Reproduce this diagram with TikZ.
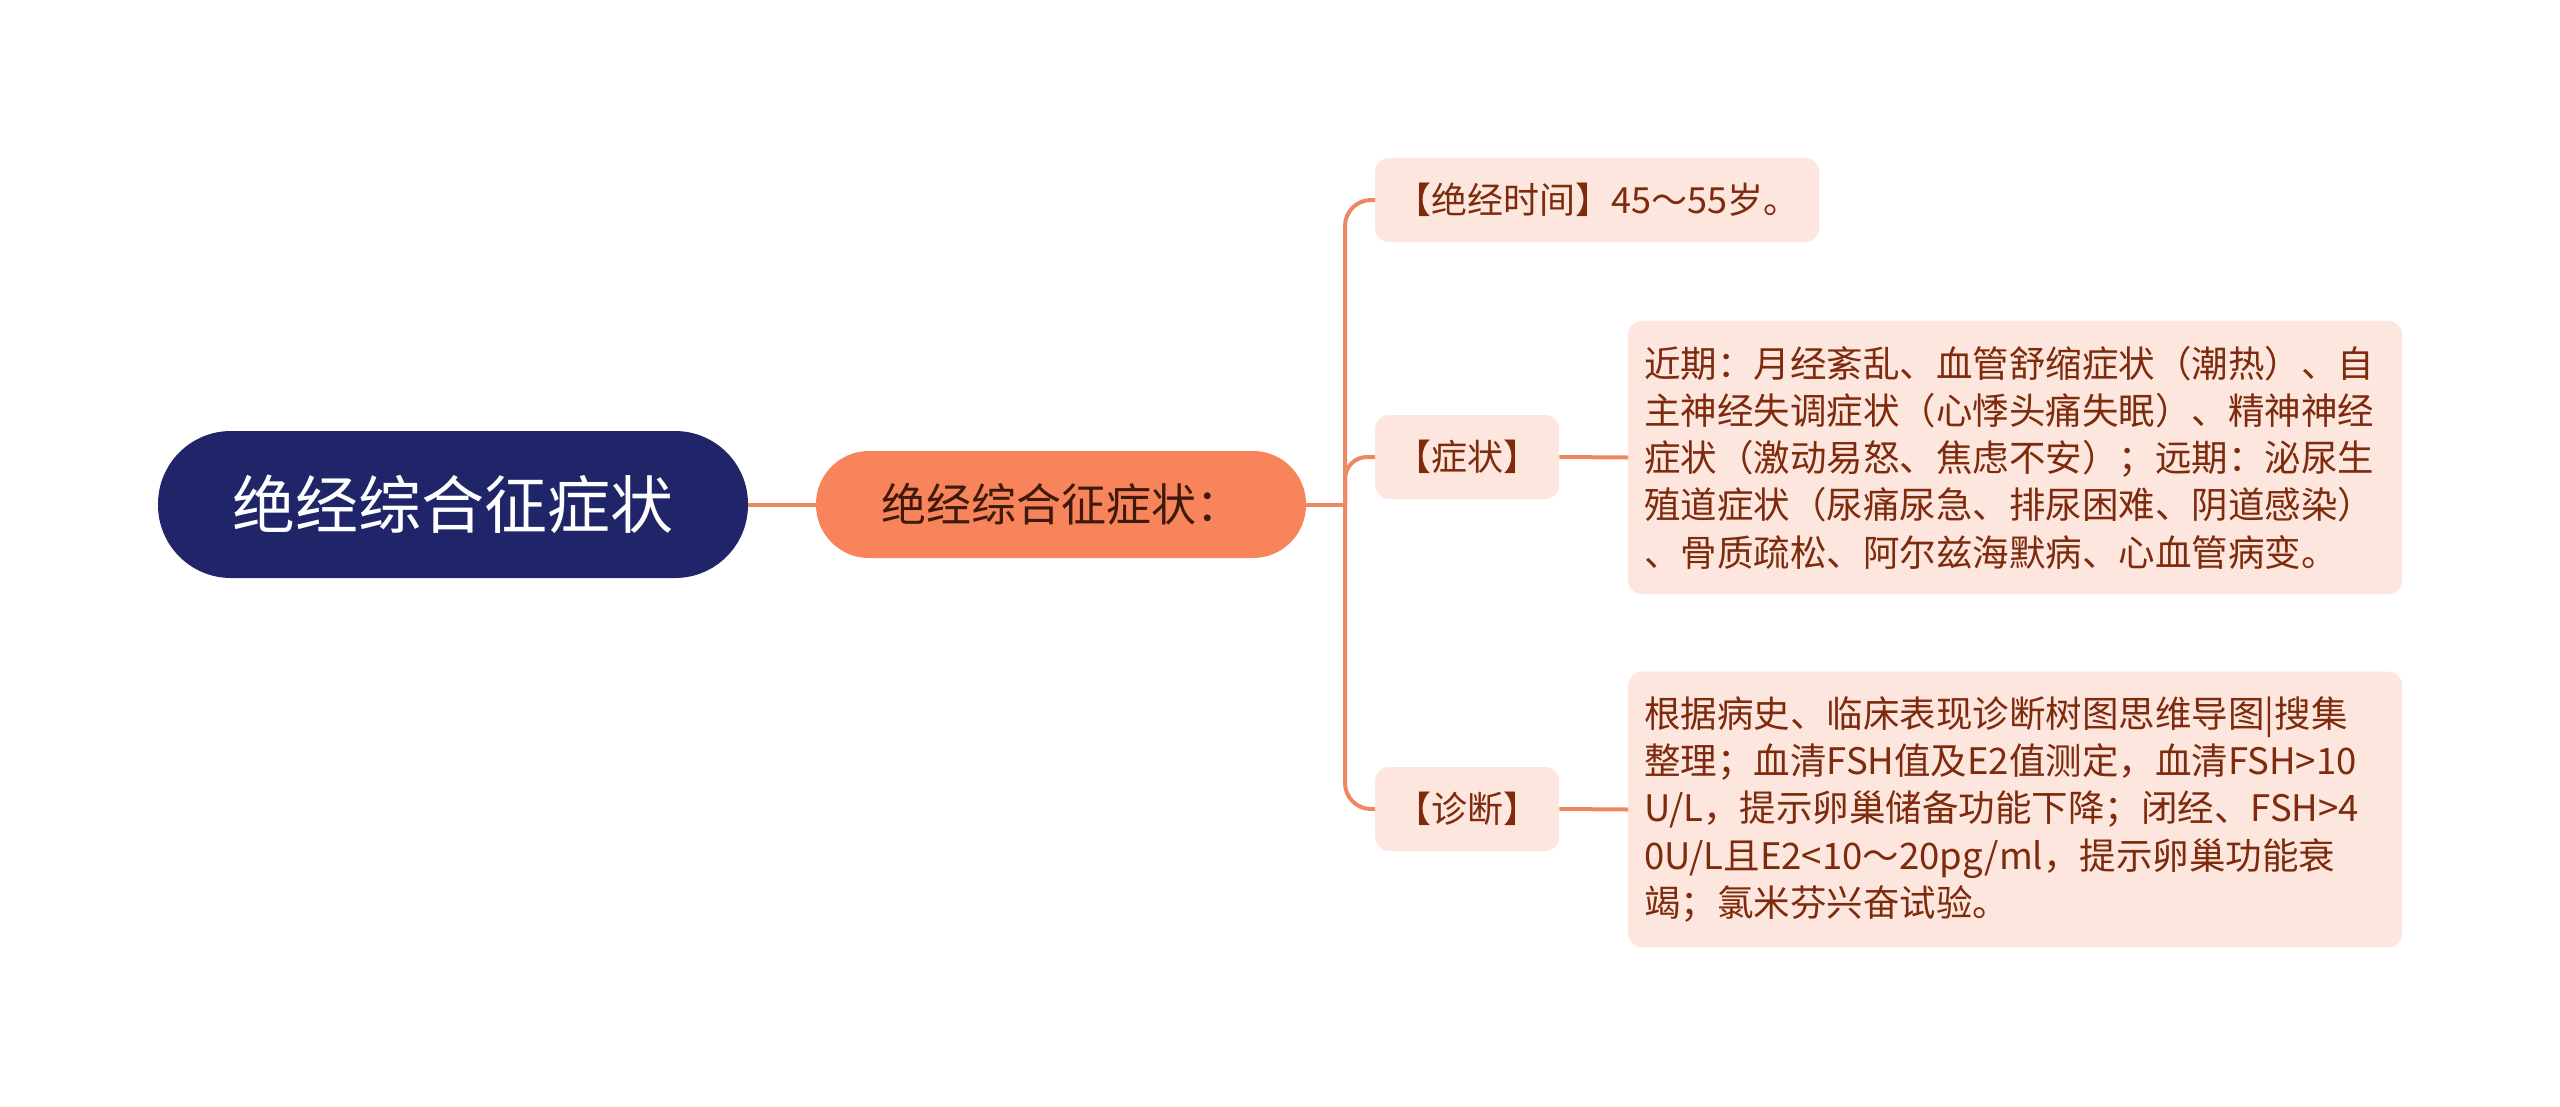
\documentclass[tikz,border=0pt]{standalone}
\usepackage{fontspec}
\setmainfont{Noto Sans CJK SC}
\usetikzlibrary{calc}
\definecolor{navy}{HTML}{1F2568}
\definecolor{coral}{HTML}{F7845A}
\definecolor{peach}{HTML}{FDE6DD}
\definecolor{txtbrown}{HTML}{7E2A0C}
\definecolor{darktxt}{HTML}{3F1A0C}
\definecolor{linec}{HTML}{EE8864}
\tikzset{
  rootbox/.style={fill=navy, text=white, rounded corners=73pt, minimum width=590pt, minimum height=147pt, font=\fontsize{63}{74}\selectfont, inner sep=0pt},
  lonebox/.style={fill=coral, text=darktxt, rounded corners=53pt, minimum width=490pt, minimum height=107pt, font=\fontsize{45}{54}\selectfont, inner sep=0pt},
  childbox/.style={fill=peach, text=txtbrown, rounded corners=14pt, minimum height=84pt, inner xsep=20pt, font=\fontsize{36}{46}\selectfont, anchor=west},
  detailbox/.style={fill=peach, text=txtbrown, rounded corners=14pt, text width=742pt, inner xsep=16pt, inner ysep=25pt, align=left, font=\fontsize{36.5}{47.3}\selectfont, anchor=west},
  conn/.style={draw=linec, line width=4pt},
}
\begin{document}
\begin{tikzpicture}[x=1pt,y=-1pt]
\path[use as bounding box, fill=white] (0,0) rectangle (2560,1106);
\node[rootbox] (root) at (453,504.5) {绝经综合征症状};
\node[lonebox] (l1) at (1061,504.5) {绝经综合征症状：};
\node[childbox] (c1) at (1375,200) {【绝经时间】45～55岁。};
\node[childbox] (c2) at (1375,457) {【症状】};
\node[childbox] (c3) at (1375,809) {【诊断】};
\node[detailbox] (d2) at (1628,457.5) {近期：月经紊乱、血管舒缩症状（潮热）、自\\主神经失调症状（心悸头痛失眠）、精神神经\\症状（激动易怒、焦虑不安）；远期：泌尿生\\殖道症状（尿痛尿急、排尿困难、阴道感染）\\、骨质疏松、阿尔兹海默病、心血管病变。};
\node[detailbox] (d3) at (1628,809.5) {根据病史、临床表现诊断树图思维导图|搜集\\整理；血清FSH值及E2值测定，血清FSH>10\\U/L，提示卵巢储备功能下降；闭经、FSH>4\\0U/L且E2<10～20pg/ml，提示卵巢功能衰\\竭；氯米芬兴奋试验。};
\coordinate (jn) at (1345,504.5);
\draw[conn] (root.east) -- (l1.west);
\draw[conn] (l1.east) -- (jn);
\draw[conn, rounded corners=26pt] (jn) |- (c1.west);
\draw[conn, rounded corners=22pt] (jn) |- (c2.west);
\draw[conn, rounded corners=26pt] (jn) |- (c3.west);
\draw[conn] (c2.east) -- (d2.west);
\draw[conn] (c3.east) -- (d3.west);
\end{tikzpicture}
\end{document}
